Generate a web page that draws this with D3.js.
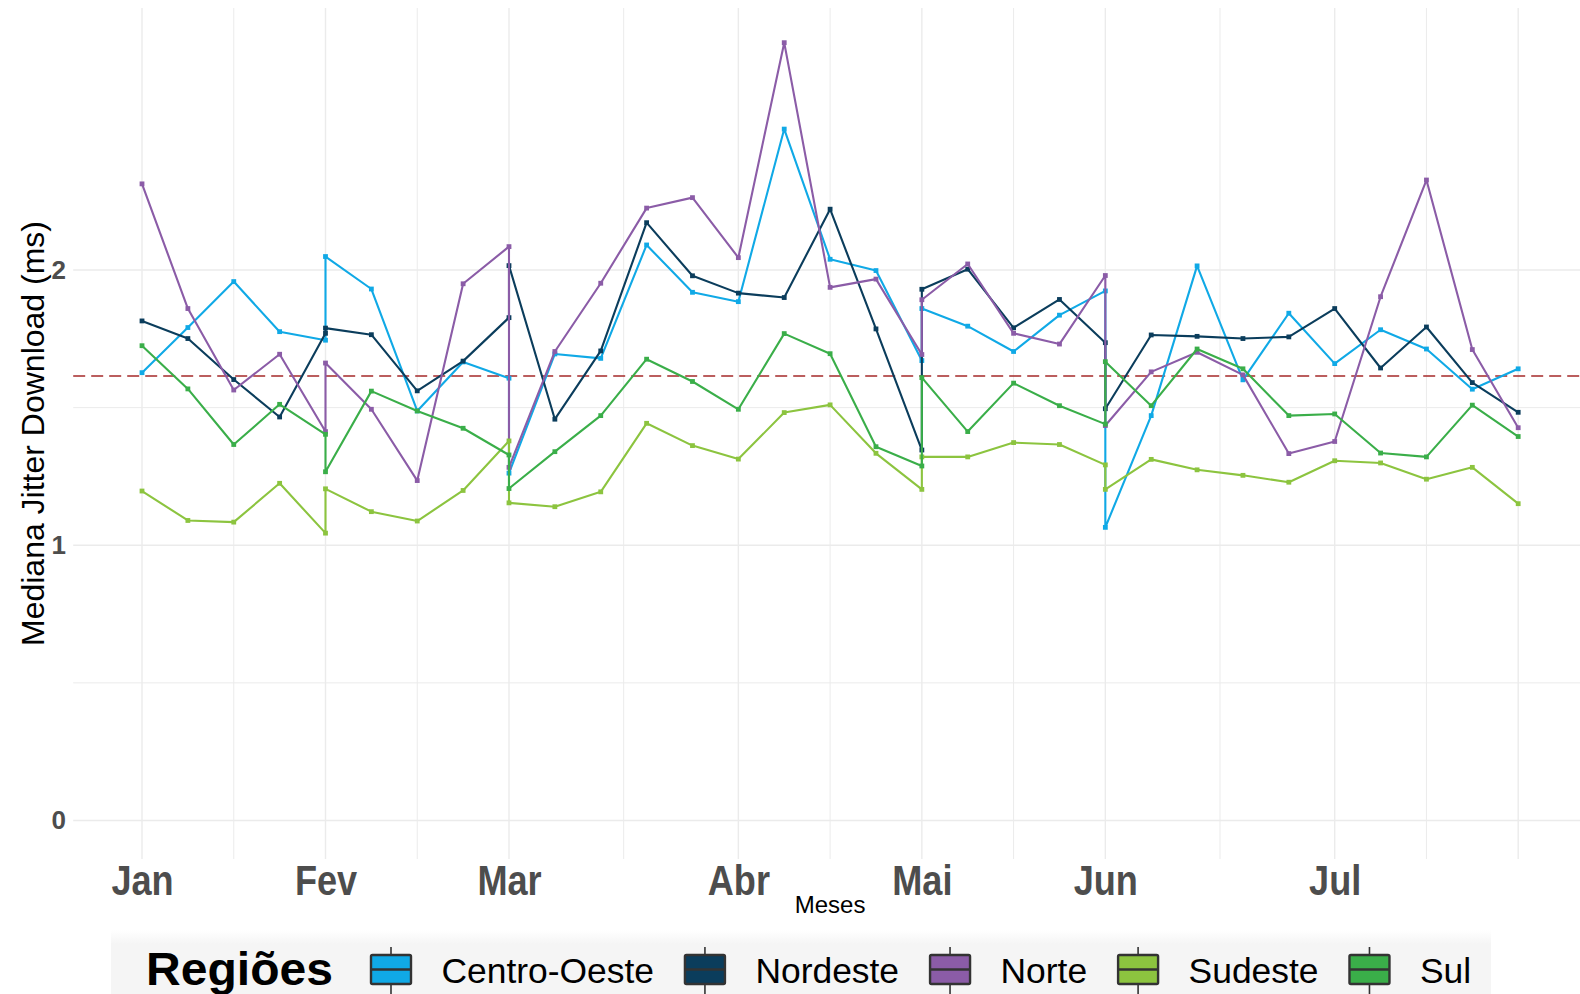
<!DOCTYPE html>
<html>
<head>
<meta charset="utf-8">
<script src="https://cdn.jsdelivr.net/npm/d3@7"></script>
<style>
  html, body { margin: 0; padding: 0; background: #ffffff; }
  svg { display: block; font-family: "Liberation Sans", Arial, Helvetica, sans-serif; }
</style>
</head>
<body>
<svg id="chart" width="1580" height="994"></svg>
<script>
// Regiões e cores
const regioes = ["Centro-Oeste", "Nordeste", "Norte", "Sudeste", "Sul"];
const cores = ["#10a9e6", "#0b3d5c", "#8b5ca7", "#8cc43f", "#3aae49"];

// Semana do ano (0 = 1ª semana de janeiro); semanas que cruzam a virada do mês aparecem duas vezes
const semanas = [0, 1, 2, 3, 4,   4, 5, 6, 7, 8,   8, 9, 10, 11, 12,   13, 14, 15, 16, 17,
                 17, 18, 19, 20, 21,   21, 22, 23, 24, 25,   26, 27, 28, 29, 30];

// Mediana semanal do jitter de download (ms) por região
const centroOeste = [1.627, 1.791, 1.958, 1.776, 1.745,   2.049, 1.931, 1.488, 1.666, 1.607,
                     1.262, 1.695, 1.679, 2.091, 1.919,   1.885, 2.512, 2.039, 1.998, 1.671,
                     1.860, 1.796, 1.704, 1.836, 1.924,   1.065, 1.471, 2.015, 1.601, 1.843,
                     1.660, 1.783, 1.713, 1.567, 1.641];
const nordeste    = [1.815, 1.751, 1.602, 1.466, 1.770,   1.789, 1.765, 1.561, 1.669, 1.827,
                     2.016, 1.458, 1.706, 2.172, 1.979,   1.916, 1.900, 2.221, 1.786, 1.346,
                     1.930, 2.003, 1.790, 1.893, 1.736,   1.496, 1.764, 1.759, 1.751, 1.757,
                     1.860, 1.644, 1.793, 1.591, 1.483];
const norte       = [2.313, 1.860, 1.564, 1.694, 1.413,   1.662, 1.494, 1.235, 1.950, 2.085,
                     1.283, 1.704, 1.952, 2.225, 2.263,   2.045, 2.826, 1.937, 1.967, 1.693,
                     1.892, 2.022, 1.770, 1.731, 1.980,   1.435, 1.630, 1.701, 1.619, 1.333,
                     1.377, 1.903, 2.327, 1.711, 1.427];
const sudeste     = [1.197, 1.090, 1.084, 1.225, 1.044,   1.205, 1.122, 1.088, 1.199, 1.379,
                     1.154, 1.140, 1.194, 1.443, 1.362,   1.313, 1.482, 1.510, 1.334, 1.203,
                     1.321, 1.321, 1.373, 1.366, 1.292,   1.203, 1.312, 1.274, 1.254, 1.229,
                     1.307, 1.299, 1.240, 1.283, 1.151];
const sul         = [1.725, 1.568, 1.366, 1.512, 1.403,   1.267, 1.560, 1.488, 1.425, 1.328,
                     1.206, 1.340, 1.471, 1.676, 1.595,   1.494, 1.769, 1.696, 1.358, 1.288,
                     1.609, 1.413, 1.589, 1.507, 1.440,   1.667, 1.507, 1.713, 1.641, 1.471,
                     1.477, 1.335, 1.321, 1.509, 1.395];

// Mediana geral (linha de referência)
const medianaGeral = 1.615;

// Eixos
const meses = ["Jan", "Fev", "Mar", "Abr", "Mai", "Jun", "Jul"];
const inicioMes = [0, 4, 8, 13, 17, 21, 26];
const quebrasX = [0, 4, 8, 13, 17, 21, 26, 30];
const quebrasY = [0, 1, 2];
const secundariasY = [0.5, 1.5];

const valores = [centroOeste, nordeste, norte, sudeste, sul];
const series = regioes.map((r, k) => ({
  regiao: r,
  cor: cores[k],
  pontos: semanas.map((s, i) => ({ semana: s, valor: valores[k][i] }))
}));

const svg = d3.select("#chart");
const W = 1580, H = 994;

const painel = { left: 73.2, right: 1587, top: 8, bottom: 859 };
const x = d3.scaleLinear().domain([-1.5, 31.5]).range([painel.left, painel.right]);
const y = d3.scaleLinear().domain([-0.14, 2.952]).range([painel.bottom, painel.top]);

svg.append("rect").attr("width", W).attr("height", H).attr("fill", "#ffffff");

// Linhas de grade
const grade = svg.append("g").attr("stroke", "#ebebeb");
const secundariasX = d3.pairs(quebrasX).map(([a, b]) => (a + b) / 2);
grade.selectAll("line.vmin").data(secundariasX).join("line")
  .attr("x1", d => x(d)).attr("x2", d => x(d))
  .attr("y1", painel.top).attr("y2", painel.bottom).attr("stroke-width", 1);
grade.selectAll("line.vmaj").data(quebrasX).join("line")
  .attr("x1", d => x(d)).attr("x2", d => x(d))
  .attr("y1", painel.top).attr("y2", painel.bottom).attr("stroke-width", 1.4);
grade.selectAll("line.hmin").data(secundariasY).join("line")
  .attr("x1", painel.left).attr("x2", painel.right)
  .attr("y1", d => y(d)).attr("y2", d => y(d)).attr("stroke-width", 1);
grade.selectAll("line.hmaj").data(quebrasY).join("line")
  .attr("x1", painel.left).attr("x2", painel.right)
  .attr("y1", d => y(d)).attr("y2", d => y(d)).attr("stroke-width", 1.4);

// Linha da mediana geral
svg.append("line")
  .attr("x1", painel.left).attr("x2", painel.right)
  .attr("y1", y(medianaGeral)).attr("y2", y(medianaGeral))
  .attr("stroke", "#a52a2a").attr("stroke-width", 1.6)
  .attr("stroke-dasharray", "12,6");

// Séries
const linha = d3.line().x(d => x(d.semana)).y(d => y(d.valor));
const gSeries = svg.append("g");
series.forEach(s => {
  gSeries.append("path")
    .datum(s.pontos)
    .attr("d", linha)
    .attr("fill", "none")
    .attr("stroke", s.cor)
    .attr("stroke-width", 2.1)
    .attr("stroke-linejoin", "round");
  const lado = 4.8;
  gSeries.selectAll(null).data(s.pontos).join("rect")
    .attr("x", d => x(d.semana) - lado / 2)
    .attr("y", d => y(d.valor) - lado / 2)
    .attr("width", lado).attr("height", lado)
    .attr("fill", s.cor);
});

// Eixo X (meses)
const eixoX = svg.append("g")
  .attr("transform", `translate(0,${painel.bottom})`)
  .call(d3.axisBottom(x).tickValues(inicioMes).tickSize(0)
        .tickFormat((d, i) => meses[i]));
eixoX.select(".domain").remove();
eixoX.selectAll("text")
  .attr("y", 36).attr("dy", null)
  .attr("transform", "scale(0.86,1)")
  .attr("fill", "#4d4d4d")
  .attr("font-size", 42).attr("font-weight", "bold")
  .attr("font-family", "'Liberation Sans', Arial, sans-serif");

// Eixo Y
const eixoY = svg.append("g")
  .attr("transform", "translate(66,0)")
  .call(d3.axisLeft(y).tickValues(quebrasY).tickSize(0).tickPadding(0)
        .tickFormat(d3.format("d")));
eixoY.select(".domain").remove();
eixoY.selectAll("text")
  .attr("fill", "#4d4d4d")
  .attr("font-size", 26).attr("font-weight", "bold")
  .attr("font-family", "'Liberation Sans', Arial, sans-serif");

// Títulos dos eixos
svg.append("text")
  .attr("transform", `translate(44,${(painel.top + painel.bottom) / 2}) rotate(-90)`)
  .attr("text-anchor", "middle")
  .attr("font-size", 32).attr("fill", "#000")
  .text("Mediana Jitter Download (ms)");

svg.append("text")
  .attr("x", (painel.left + painel.right) / 2).attr("y", 913)
  .attr("text-anchor", "middle")
  .attr("font-size", 24).attr("fill", "#000")
  .text("Meses");

// Legenda
const defs = svg.append("defs");
const grad = defs.append("linearGradient").attr("id", "fundoLegenda")
  .attr("x1", 0).attr("x2", 0).attr("y1", 0).attr("y2", 1);
grad.append("stop").attr("offset", "0%").attr("stop-color", "#ffffff");
grad.append("stop").attr("offset", "20%").attr("stop-color", "#f5f5f5");
grad.append("stop").attr("offset", "100%").attr("stop-color", "#f5f5f5");

const legenda = svg.append("g");
legenda.append("rect")
  .attr("x", 111).attr("y", 930).attr("width", 1380).attr("height", 70)
  .attr("fill", "url(#fundoLegenda)");

legenda.append("text")
  .attr("x", 146).attr("y", 985)
  .attr("font-size", 46).attr("font-weight", "bold").attr("fill", "#000")
  .attr("textLength", 187).attr("lengthAdjust", "spacingAndGlyphs")
  .text("Regiões");

let cursor = 371;
const chaveL = 40, chaveTopo = 955, chaveBase = 984;
series.forEach(s => {
  const g = legenda.append("g");
  const cx = cursor + chaveL / 2;
  g.append("line").attr("x1", cx).attr("x2", cx).attr("y1", 947).attr("y2", 997)
    .attr("stroke", "#333333").attr("stroke-width", 1.6);
  g.append("rect")
    .attr("x", cursor).attr("y", chaveTopo)
    .attr("width", chaveL).attr("height", chaveBase - chaveTopo)
    .attr("rx", 1.5)
    .attr("fill", s.cor).attr("stroke", "#333333").attr("stroke-width", 2.4);
  g.append("line").attr("x1", cursor).attr("x2", cursor + chaveL)
    .attr("y1", (chaveTopo + chaveBase) / 2).attr("y2", (chaveTopo + chaveBase) / 2)
    .attr("stroke", "#333333").attr("stroke-width", 2.4);
  const t = g.append("text")
    .attr("x", cursor + chaveL + 30.5).attr("y", 983)
    .attr("font-size", 35.4).attr("fill", "#000")
    .text(s.regiao);
  cursor = cursor + chaveL + 30.5 + t.node().getComputedTextLength() + 31;
});
</script>
</body>
</html>
